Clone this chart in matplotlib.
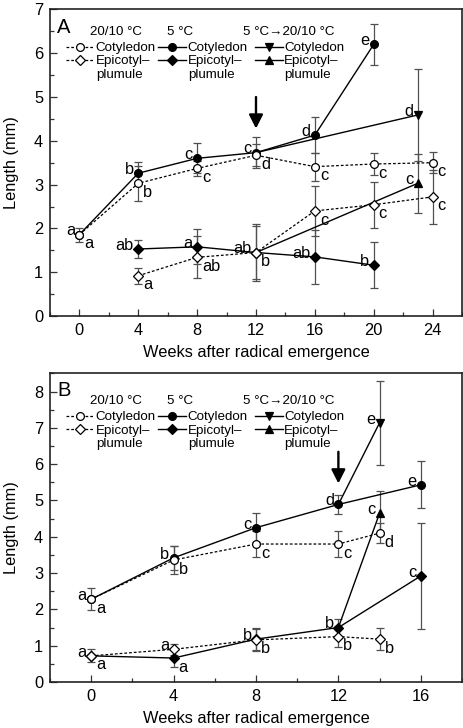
import numpy as np
import matplotlib
matplotlib.use("Agg")
import matplotlib.pyplot as plt
from matplotlib.lines import Line2D
from matplotlib.legend import Legend
from matplotlib.ticker import MultipleLocator

plt.rcParams['font.family'] = ['Liberation Sans', 'DejaVu Sans']

nan = np.nan

# ---------------- Panel A data ----------------
A_weeks_2010 = [0, 4, 8, 12, 16, 20, 24]
A_cot_2010 = [1.86, 3.03, 3.37, 3.67, 3.41, 3.47, 3.50]
A_cot_2010_err = [0.16, 0.40, 0.18, 0.25, 0.32, 0.26, 0.24]
A_cot_2010_let = ['a', 'b', 'c', 'd', 'c', 'c', 'c']
A_cot_2010_pos = ['lr', 'lr', 'lr', 'lr', 'lr', 'lr', 'lr']

A_epi_weeks_2010 = [4, 8, 12, 16, 20, 24]
A_epi_2010 = [0.92, 1.34, 1.45, 2.40, 2.54, 2.72]
A_epi_2010_err = [0.18, 0.48, 0.65, 0.57, 0.52, 0.62]
A_epi_2010_let = ['a', 'ab', 'b', 'c', 'c', 'c']
A_epi_2010_pos = ['lr', 'lr', 'lr', 'lr', 'lr', 'lr']

A_weeks_5 = [0, 4, 8, 12, 16, 20]
A_cot_5 = [1.86, 3.26, 3.60, 3.73, 4.13, 6.20]
A_cot_5_err = [nan, 0.25, 0.34, 0.35, 0.41, 0.47]
A_cot_5_let = ['a', 'b', 'c', 'c', 'd', 'e']
A_cot_5_pos = ['ul', 'ul', 'ul', 'ul', 'ul', 'ul']

A_epi_weeks_5 = [4, 8, 12, 16, 20]
A_epi_5 = [1.53, 1.58, 1.45, 1.35, 1.16]
A_epi_5_err = [0.20, 0.40, 0.60, 0.62, 0.52]
A_epi_5_let = ['ab', 'a', 'ab', 'ab', 'b']
A_epi_5_pos = ['ul', 'ul', 'ul', 'ul', 'ul']

A_weeks_sw = [12, 23]
A_cot_sw = [3.73, 4.59]
A_cot_sw_err = [nan, 1.05]
A_cot_sw_let = [None, 'd']
A_epi_sw = [1.45, 3.03]
A_epi_sw_err = [nan, 0.67]
A_epi_sw_let = [None, 'c']
A_sw_pos = ['ul', 'ul']

A_arrow = (12, 5.0, 4.28)   # week, tail, head
A_xticks = [0, 4, 8, 12, 16, 20, 24]
A_yticks = [0, 1, 2, 3, 4, 5, 6, 7]

# ---------------- Panel B data ----------------
B_weeks_2010 = [0, 4, 8, 12, 14]
B_cot_2010 = [2.28, 3.36, 3.80, 3.80, 4.10]
B_cot_2010_err = [0.31, 0.38, 0.35, 0.36, 0.28]
B_cot_2010_let = ['a', 'b', 'c', 'c', 'd']
B_cot_2010_pos = ['lr', 'lr', 'lr', 'lr', 'lr']
B_epi_2010 = [0.72, 0.90, 1.16, 1.25, 1.18]
B_epi_2010_err = [0.18, 0.15, 0.30, 0.28, 0.30]
B_epi_2010_let = ['a', 'a', 'b', 'b', 'b']
B_epi_2010_pos = ['lr', 'ul', 'lr', 'lr', 'lr']

B_weeks_5 = [0, 4, 8, 12, 16]
B_cot_5 = [2.28, 3.42, 4.25, 4.89, 5.43]
B_cot_5_err = [nan, 0.33, 0.40, 0.27, 0.65]
B_cot_5_let = ['a', 'b', 'c', 'd', 'e']
B_cot_5_pos = ['ul', 'ul', 'ul', 'ul', 'ul']
B_epi_5 = [0.72, 0.66, 1.18, 1.50, 2.92]
B_epi_5_err = [nan, 0.25, 0.30, 0.23, 1.47]
B_epi_5_let = ['a', 'a', 'b', 'b', 'c']
B_epi_5_pos = ['ul', 'lr', 'ul', 'ul', 'ul']

B_weeks_sw = [12, 14]
B_cot_sw = [4.89, 7.14]
B_cot_sw_err = [nan, 1.15]
B_cot_sw_let = [None, 'e']
B_epi_sw = [1.50, 4.65]
B_epi_sw_err = [nan, 0.60]
B_epi_sw_let = [None, 'c']
B_sw_pos = ['ul', 'ul']

B_arrow = (12, 6.34, 5.47)
B_xticks = [0, 4, 8, 12, 16]
B_yticks = [0, 1, 2, 3, 4, 5, 6, 7, 8]

headers = ['20/10 \u00b0C', '5 \u00b0C', '5 \u00b0C\u219220/10 \u00b0C']
entry_labels = ['Cotyledon', 'Epicotyl\u2013', 'plumule']
xlabel = 'Weeks after radical emergence'
ylabel = 'Length (mm)'

# ---------------- styles ----------------
FS = 11.8
LFS = 9.6
ERRC = '#505050'
DOT = (0, (2.2, 1.6))
st_2010_cot = dict(color='k', ls=DOT, lw=0.9, marker='o', ms=5.6, mfc='white', mec='k', mew=0.9)
st_2010_epi = dict(color='k', ls=DOT, lw=0.9, marker='D', ms=5.2, mfc='white', mec='k', mew=0.9)
st_5_cot = dict(color='k', ls='-', lw=1.0, marker='o', ms=5.6, mfc='k', mec='k', mew=0.9)
st_5_epi = dict(color='k', ls='-', lw=1.0, marker='D', ms=5.2, mfc='k', mec='k', mew=0.9)
st_sw_cot = dict(color='k', ls='-', lw=1.0, marker='v', ms=5.6, mfc='k', mec='k', mew=0.9)
st_sw_epi = dict(color='k', ls='-', lw=1.0, marker='^', ms=5.6, mfc='k', mec='k', mew=0.9)


def series(ax, x, y, err, letters, pos, style, z, markevery=None):
    err = np.asarray(err, dtype=float)
    ax.errorbar(x, y, yerr=err, fmt='none', ecolor=ERRC, elinewidth=0.9,
                capsize=3.0, capthick=0.9, zorder=1)
    kw = dict(style)
    if markevery is not None:
        kw['markevery'] = markevery
    ax.plot(x, y, zorder=z, clip_on=False, **kw)
    for xi, yi, t, p in zip(x, y, letters, pos):
        if not t:
            continue
        if p == 'ul':
            ax.annotate(t, (xi, yi), xytext=(-3.2, -0.6), textcoords='offset points',
                        ha='right', va='baseline', fontsize=FS, zorder=6)
        else:
            ax.annotate(t, (xi, yi), xytext=(3.6, -9.8), textcoords='offset points',
                        ha='left', va='baseline', fontsize=FS, zorder=6)


def legend_block(ax, y_hdr, y_leg):
    xs_hdr = [0.097, 0.284, 0.468]
    xs_leg = [0.040, 0.263, 0.497]
    styles = [(st_2010_cot, st_2010_epi), (st_5_cot, st_5_epi), (st_sw_cot, st_sw_epi)]
    for i in range(3):
        ax.text(xs_hdr[i], y_hdr, headers[i], transform=ax.transAxes, fontsize=LFS,
                ha='left', va='center')
        sc, se = styles[i]
        handles = [Line2D([], [], **sc), Line2D([], [], **se), Line2D([], [], ls='none')]
        leg = Legend(ax, handles, entry_labels, loc='upper left', bbox_to_anchor=(xs_leg[i], y_leg),
                     bbox_transform=ax.transAxes,
                     frameon=False, fontsize=LFS, handlelength=2.1, handletextpad=0.1,
                     labelspacing=0.07, borderpad=0, borderaxespad=0, numpoints=1)
        ax.add_artist(leg)


def style_axes(ax, xticks, yticks, ylim, letter, xlim, yletter):
    ax.set_xlim(*xlim)
    ax.set_ylim(*ylim)
    ax.set_xticks(xticks)
    ax.set_yticks(yticks)
    ax.xaxis.set_minor_locator(MultipleLocator(2))
    ax.yaxis.set_minor_locator(MultipleLocator(0.5))
    ax.tick_params(which='both', direction='in', top=False, right=False, labelsize=FS,
                   width=0.9, color='#333333')
    ax.tick_params(which='major', length=5, pad=5)
    ax.tick_params(which='minor', length=3)
    for s in ax.spines.values():
        s.set_linewidth(1.2)
        s.set_color('#222222')
    ax.set_xlabel(xlabel, fontsize=FS)
    ax.set_ylabel(ylabel, fontsize=FS)
    ax.xaxis.set_label_coords(0.5, -0.095)
    ax.yaxis.set_label_coords(-0.076, 0.5)
    ax.text(0.018, yletter, letter, transform=ax.transAxes, fontsize=14.5, ha='left', va='center')


fig = plt.figure(figsize=(4.63, 7.28), dpi=100)
axA = fig.add_axes([0.108, 0.5659, 0.8898, 0.4212])
axB = fig.add_axes([0.108, 0.0632, 0.8898, 0.4239])

# ---- Panel A ----
style_axes(axA, A_xticks, A_yticks, (0, 7), 'A', (-2, 26), 0.94)
series(axA, A_weeks_5, A_cot_5, A_cot_5_err, A_cot_5_let, A_cot_5_pos, st_5_cot, 3)
series(axA, A_epi_weeks_5, A_epi_5, A_epi_5_err, A_epi_5_let, A_epi_5_pos, st_5_epi, 3)
series(axA, A_weeks_sw, A_cot_sw, A_cot_sw_err, A_cot_sw_let, A_sw_pos, st_sw_cot, 2, markevery=[1])
series(axA, A_weeks_sw, A_epi_sw, A_epi_sw_err, A_epi_sw_let, A_sw_pos, st_sw_epi, 2, markevery=[1])
series(axA, A_weeks_2010, A_cot_2010, A_cot_2010_err, A_cot_2010_let, A_cot_2010_pos, st_2010_cot, 4)
series(axA, A_epi_weeks_2010, A_epi_2010, A_epi_2010_err, A_epi_2010_let, A_epi_2010_pos, st_2010_epi, 4)
axA.annotate('', xy=(A_arrow[0], A_arrow[2]), xytext=(A_arrow[0], A_arrow[1]),
             arrowprops=dict(arrowstyle='-|>,head_length=0.55,head_width=0.28', lw=1.7,
                             color='k', mutation_scale=15, shrinkA=0, shrinkB=0))
legend_block(axA, 0.927, 0.894)

# ---- Panel B ----
style_axes(axB, B_xticks, B_yticks, (0, 8.5), 'B', (-2, 18), 0.946)
series(axB, B_weeks_5, B_cot_5, B_cot_5_err, B_cot_5_let, B_cot_5_pos, st_5_cot, 3)
series(axB, B_weeks_5, B_epi_5, B_epi_5_err, B_epi_5_let, B_epi_5_pos, st_5_epi, 3)
series(axB, B_weeks_sw, B_cot_sw, B_cot_sw_err, B_cot_sw_let, B_sw_pos, st_sw_cot, 2, markevery=[1])
series(axB, B_weeks_sw, B_epi_sw, B_epi_sw_err, B_epi_sw_let, B_sw_pos, st_sw_epi, 2, markevery=[1])
series(axB, B_weeks_2010, B_cot_2010, B_cot_2010_err, B_cot_2010_let, B_cot_2010_pos, st_2010_cot, 4)
series(axB, B_weeks_2010, B_epi_2010, B_epi_2010_err, B_epi_2010_let, B_epi_2010_pos, st_2010_epi, 4)
axB.annotate('', xy=(B_arrow[0], B_arrow[2]), xytext=(B_arrow[0], B_arrow[1]),
             arrowprops=dict(arrowstyle='-|>,head_length=0.55,head_width=0.28', lw=1.7,
                             color='k', mutation_scale=15, shrinkA=0, shrinkB=0))
legend_block(axB, 0.911, 0.878)

fig.savefig('out.png', dpi=100)
